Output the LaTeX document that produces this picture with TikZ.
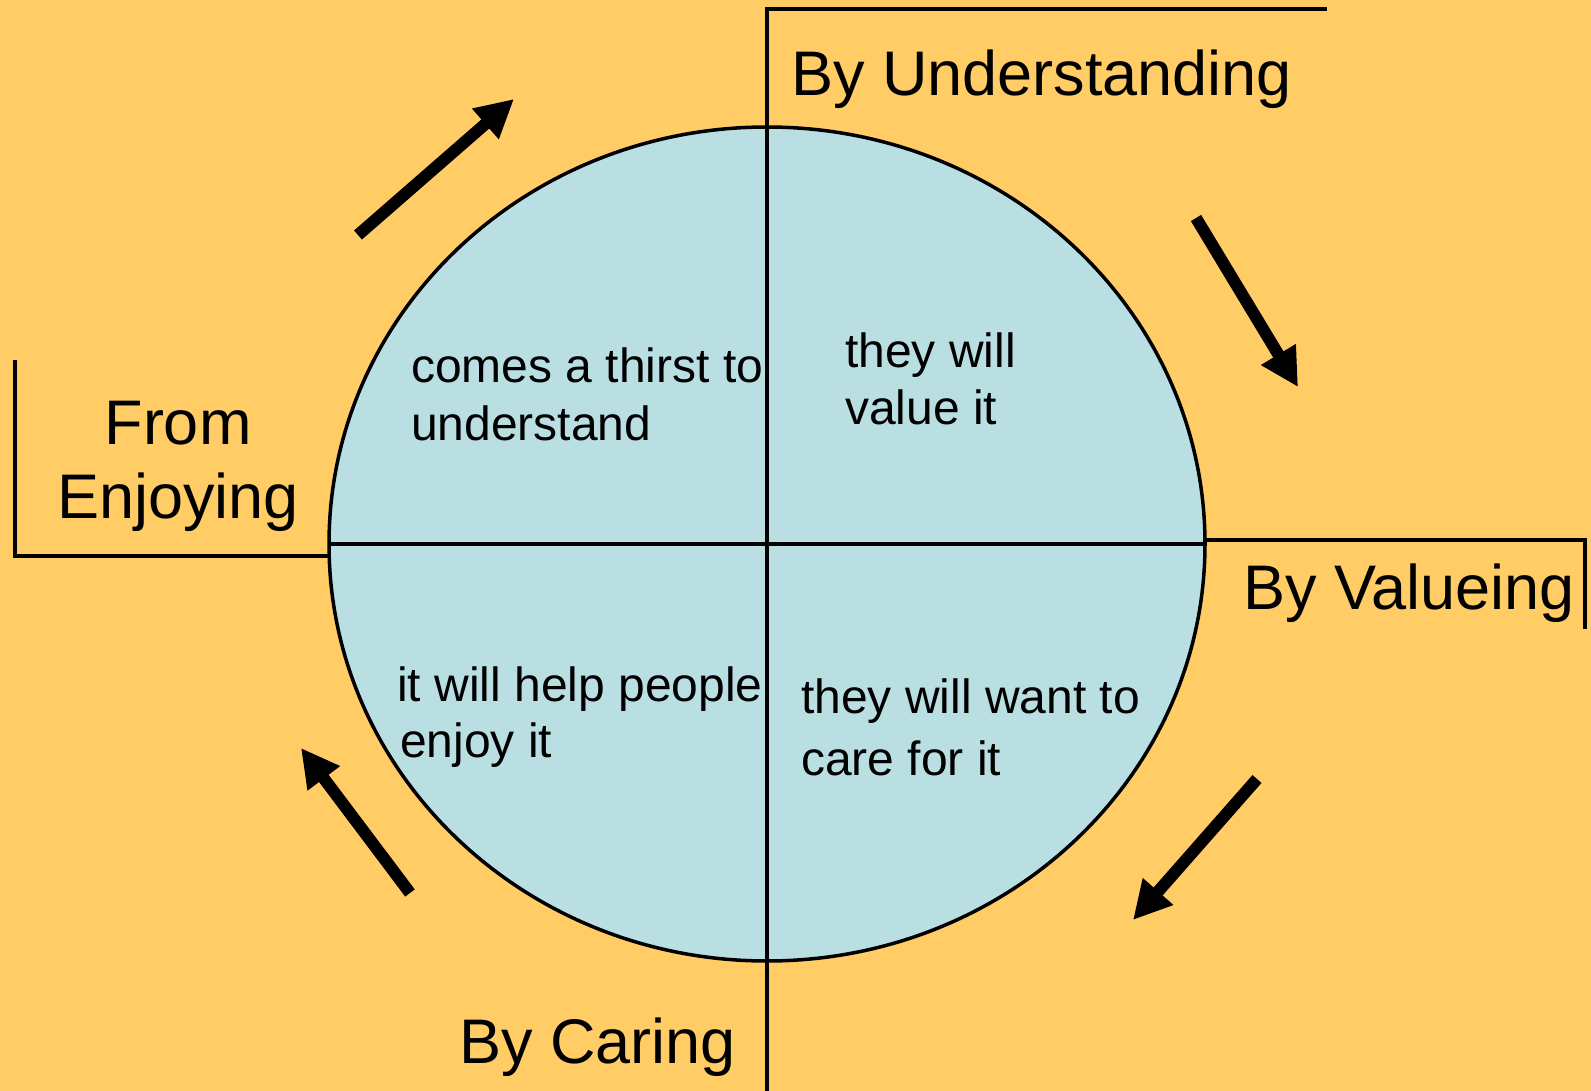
\documentclass[tikz,border=0pt]{standalone}
\usepackage{fontspec}
\setmainfont{Liberation Sans}
\usetikzlibrary{arrows.meta}
\definecolor{bg}{RGB}{255,204,102}
\definecolor{disc}{RGB}{186,223,227}
\begin{document}
\begin{tikzpicture}[x=1pt,y=-1pt,
  bigtext/.style={font=\fontsize{63}{70}\selectfont, inner sep=0pt, anchor=base west},
  smalltext/.style={font=\fontsize{48}{56}\selectfont, inner sep=0pt, anchor=base west},
  frameline/.style={line width=3.5pt},
  bigarrow/.style={line width=12pt, -{Triangle[length=38pt,width=38pt]}}]
\fill[bg] (0,0) rectangle (1591,1091);
\useasboundingbox (0,0) rectangle (1591,1091);
% disc
\draw[fill=disc, line width=3.5pt] (767,544) ellipse [x radius=438, y radius=417];
% cross lines
\draw[frameline] (330,544) -- (1205,544);
\draw[frameline] (767,1091) -- (767,9) -- (1327,9);
\draw[frameline] (15,360) -- (15,556) -- (330,556);
\draw[frameline] (1205,540) -- (1585,540) -- (1585,629);
% labels
\node[bigtext] (under) at (791,96) {By Understanding};
\node[bigtext] (value) at (1243,609) {By Valueing};
\node[bigtext] (caring) at (459,1063) {By Caring};
\node[bigtext, anchor=base] (from) at (178,444) {From};
\node[bigtext, anchor=base] (enjoying) at (178,518) {Enjoying};
% inner texts
\node[smalltext] (q1a) at (411,382) {comes a thirst to};
\node[smalltext] (q1b) at (411,440) {understand};
\node[smalltext] (q2a) at (845,367) {they will};
\node[smalltext] (q2b) at (845,424) {value it};
\node[smalltext] (q3a) at (397,701) {it will help people};
\node[smalltext] (q3b) at (400,757) {enjoy it};
\node[smalltext] (q4a) at (801,713) {they will want to};
\node[smalltext] (q4b) at (801,775) {care for it};
% arrows
\coordinate (a1s) at (358,235);
\coordinate (a1e) at (514,99);
\coordinate (a2s) at (1196,218);
\coordinate (a2e) at (1298,387);
\coordinate (a3s) at (1257,779);
\coordinate (a3e) at (1133,920);
\coordinate (a4s) at (410,893);
\coordinate (a4e) at (301,748);
\draw[bigarrow] (a1s) -- (a1e);
\draw[bigarrow] (a2s) -- (a2e);
\draw[bigarrow] (a3s) -- (a3e);
\draw[bigarrow] (a4s) -- (a4e);
\end{tikzpicture}
\end{document}
